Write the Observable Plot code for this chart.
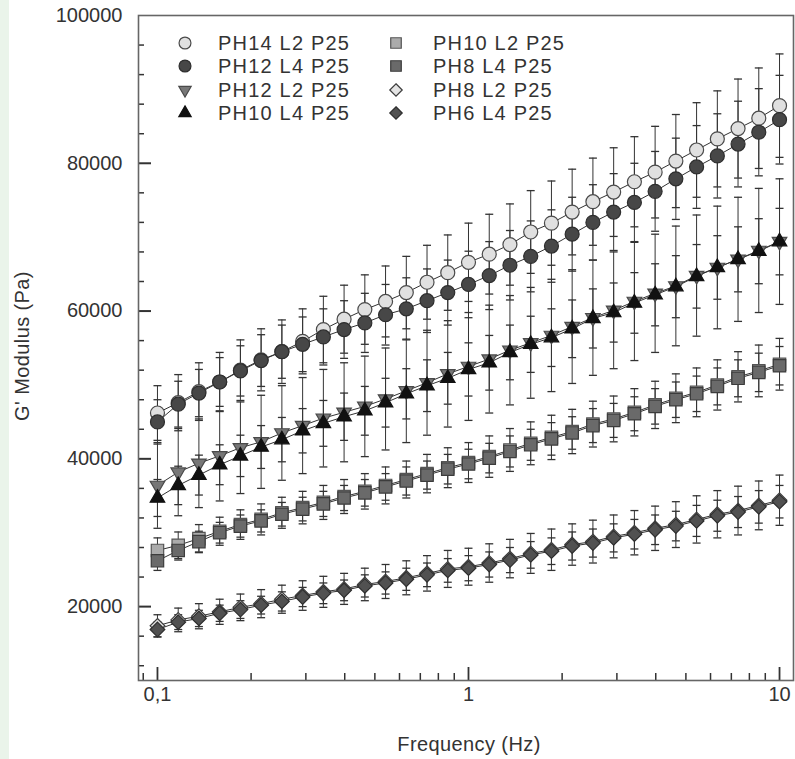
<!DOCTYPE html>
<html><head><meta charset="utf-8">
<script src="https://cdn.jsdelivr.net/npm/d3@7"></script>
<script src="https://cdn.jsdelivr.net/npm/@observablehq/plot@0.6"></script>
<style>
body{margin:0;background:#fff;width:795px;height:759px;overflow:hidden;font-family:"Liberation Sans",Arial,sans-serif;}
#wrap{position:relative;width:795px;height:759px;}
#strip{position:absolute;left:0;top:0;width:9px;height:759px;background:#eaf4ea;}
#chart{position:absolute;left:0;top:0;}
.t{position:absolute;color:#333;font-size:20px;white-space:nowrap;letter-spacing:0.4px;}
.leg{position:absolute;color:#333;font-size:20px;white-space:nowrap;letter-spacing:1.2px;line-height:20px;}
.sym{position:absolute;}
</style></head><body>
<div id="wrap"><div id="strip"></div><div id="chart"></div></div>
<script>
// Frequency (Hz)
const freq = [0.1, 0.1166, 0.1359, 0.1585, 0.1848, 0.2154, 0.2512, 0.2929, 0.3415, 0.3981, 0.4642, 0.5412, 0.631, 0.7356, 0.8577, 1, 1.166, 1.359, 1.585, 1.848, 2.154, 2.512, 2.929, 3.415, 3.981, 4.642, 5.412, 6.31, 7.356, 8.577, 10];

// G' modulus (Pa) per series
const ph14L2 = [46200,47600,49100,50400,52000,53400,54500,55900,57500,58900,60200,61300,62500,63900,65200,66600,67700,69000,70700,71900,73400,74800,76100,77500,78800,80300,81800,83300,84700,86100,87800];
const ph12L4 = [45000,47400,48900,50400,51900,53300,54500,55500,56500,57500,58400,59500,60300,61400,62500,63600,64800,66200,67400,68800,70400,72000,73400,74700,76200,77900,79500,81000,82600,84200,85900];
const ph12L2 = [36400,38200,39400,40400,41500,42300,43500,44500,45500,46300,47100,48100,49200,50300,51500,52500,53500,54700,55700,56700,57900,59100,60100,61300,62400,63400,64800,65900,67000,68200,69400];
const ph10L4 = [34700,36400,37800,39200,40400,41600,42600,43800,44800,45700,46500,47600,48800,49900,50900,52100,53000,54400,55500,56400,57600,59000,59800,61100,62200,63300,64700,65900,67000,68100,69400];
const ph10L2 = [27600,28300,29200,30200,31100,31800,32700,33400,34100,34900,35600,36400,37200,38000,38800,39500,40300,41200,42100,42900,43700,44700,45400,46300,47300,48200,49000,50000,51100,51900,52800];
const ph8L4  = [26200,27600,28800,30000,30900,31600,32500,33200,33900,34700,35400,36200,37000,37800,38600,39300,40100,41000,41900,42700,43500,44500,45200,46100,47100,48000,48800,49800,50900,51700,52600];
const ph8L2  = [17400,18200,18700,19300,19900,20400,21000,21500,22000,22400,23000,23400,23900,24500,25100,25400,25900,26500,27200,27700,28400,28800,29500,30000,30600,31100,31800,32500,33000,33700,34400];
const ph6L4  = [16900,17900,18400,19100,19600,20200,20700,21300,21800,22200,22800,23200,23700,24300,24900,25200,25700,26300,27000,27500,28200,28600,29300,29800,30400,30900,31600,32300,32800,33500,34200];

// error bar half-widths (Pa)
const ph14L2Err = [3700,3800,3900,4000,4100,4200,4300,4400,4500,4600,4700,4800,4900,5000,5100,5300,5400,5500,5600,5700,5800,5900,6000,6100,6200,6300,6400,6500,6700,6800,7000];
const ph12L4Err = [3000,3100,3200,3300,3400,3500,3600,3700,3800,3900,4000,4100,4200,4300,4400,4500,4600,4700,4800,4900,5000,5100,5200,5300,5400,5500,5600,5700,5800,5900,6000];
const ph12L2Err = [5800,5900,6000,6100,6200,6300,6400,6500,6600,6700,6800,6900,7000,7100,7200,7300,7300,7400,7500,7600,7700,7800,7900,8000,8000,8100,8200,8300,8400,8400,8500];
const ph10L4Err = [2500,2600,2700,2700,2800,2900,3000,3000,3100,3200,3300,3300,3400,3500,3500,3600,3700,3700,3800,3900,3900,4000,4000,4100,4200,4200,4300,4300,4400,4400,4500];
const ph10L2Err = [1700,1800,1900,1900,2000,2100,2100,2200,2300,2300,2400,2500,2500,2600,2700,2700,2800,2900,2900,3000,3000,3100,3100,3200,3200,3300,3300,3400,3400,3500,3500];
const ph8L4Err  = [1300,1300,1400,1400,1500,1500,1600,1600,1700,1700,1800,1800,1900,1900,2000,2000,2000,2100,2100,2200,2200,2300,2300,2300,2400,2400,2400,2500,2500,2600,2600];
const ph8L2Err  = [1500,1600,1700,1700,1800,1900,1900,2000,2100,2100,2200,2300,2300,2400,2500,2500,2600,2600,2700,2800,2800,2900,2900,3000,3000,3100,3200,3200,3300,3300,3400];
const ph6L4Err  = [1000,1000,1100,1100,1200,1200,1300,1300,1400,1400,1500,1500,1500,1600,1600,1700,1700,1700,1800,1800,1900,1900,1900,2000,2000,2000,2100,2100,2100,2200,2200];

const seriesNames = ["PH14 L2 P25","PH12 L4 P25","PH12 L2 P25","PH10 L4 P25","PH10 L2 P25","PH8 L4 P25","PH8 L2 P25","PH6 L4 P25"];
const seriesValues = [ph14L2, ph12L4, ph12L2, ph10L4, ph10L2, ph8L4, ph8L2, ph6L4];
const seriesErrors = [ph14L2Err, ph12L4Err, ph12L2Err, ph10L4Err, ph10L2Err, ph8L4Err, ph8L2Err, ph6L4Err];

// ticks
const xTickLabels = [0.1, 1, 10];
const xTickText = ["0,1", "1", "10"];
const xMinor = [0.09,0.2,0.3,0.4,0.5,0.6,0.7,0.8,0.9,2,3,4,5,6,7,8,9];
const yTickLabels = [20000, 40000, 60000, 80000, 100000];
const yMajor = [20000, 40000, 60000, 80000];
const yMinor = [12000,16000,24000,28000,32000,36000,44000,48000,52000,56000,64000,68000,72000,76000,84000,88000,92000,96000];

const xDomain = [0.0869, 11.09];
const yDomain = [10000, 100000];

const W = 795, H = 759, mL = 138, mR = 2, mT = 15, mB = 79;

const downTri = {draw(ctx, size){const s=Math.sqrt(size*4/Math.sqrt(3)), h=s*Math.sqrt(3)/2; ctx.moveTo(-s/2,-h/3); ctx.lineTo(s/2,-h/3); ctx.lineTo(0,2*h/3); ctx.closePath();}};
const cap = {draw(ctx){ctx.moveTo(-4,0); ctx.lineTo(4,0);}};

const styles = [
  {symbol:"circle",   r:7,   fill:"#e0e0e0", stroke:"#4a4a4a"},
  {symbol:"circle",   r:7,   fill:"#474747", stroke:"#2e2e2e"},
  {symbol:downTri,    r:5.4, fill:"#777",    stroke:"#4a4a4a"},
  {symbol:"triangle", r:5.4, fill:"#111",    stroke:"#111"},
  {symbol:"square",   r:7,   fill:"#ababab", stroke:"#555"},
  {symbol:"square",   r:7,   fill:"#6a6a6a", stroke:"#3c3c3c"},
  {symbol:"diamond2", r:6.6, fill:"#e4e4e4", stroke:"#3c3c3c"},
  {symbol:"diamond2", r:6.6, fill:"#515151", stroke:"#2e2e2e"}
];

const rows = [];
seriesNames.forEach((s, k) => freq.forEach((f, i) => rows.push({s, k, f, v: seriesValues[k][i], e: seriesErrors[k][i]})));

const marks = [
  Plot.ruleX(rows, {x:"f", y1:d=>d.v-d.e, y2:d=>d.v+d.e, stroke:"#333", strokeWidth:1}),
  Plot.dot(rows, {x:"f", y:d=>d.v+d.e, symbol:cap, r:1, stroke:"#333", strokeWidth:1.3}),
  Plot.dot(rows, {x:"f", y:d=>d.v-d.e, symbol:cap, r:1, stroke:"#333", strokeWidth:1.3}),
  Plot.line(rows, {x:"f", y:"v", z:"s", stroke:"#333", strokeWidth:1})
];
seriesNames.forEach((s, k) => {
  const st = styles[k];
  marks.push(Plot.dot(rows.filter(d => d.k === k), {x:"f", y:"v", symbol:st.symbol, r:st.r, fill:st.fill, stroke:st.stroke, strokeWidth:1.2}));
});
marks.push(
  // inward ticks (negative tick size points into the frame)
  Plot.axisX({ticks:xMinor, tickSize:-7, text:null, stroke:"#333", strokeWidth:1.5, label:null}),
  Plot.axisX({ticks:xTickLabels, tickSize:-13, text:null, stroke:"#333", strokeWidth:1.8, label:null}),
  Plot.axisY({ticks:yMinor, tickSize:-6, text:null, stroke:"#333", strokeWidth:1.5, label:null}),
  Plot.axisY({ticks:yMajor, tickSize:-13, text:null, stroke:"#333", strokeWidth:2, label:null}),
  Plot.axisX({ticks:xTickLabels, tickFormat:d=>xTickText[xTickLabels.indexOf(d)], tickSize:0, tickPadding:6, fontSize:20, fill:"#333", label:null}),
  Plot.axisY({ticks:yTickLabels, tickFormat:d=>String(d), tickSize:0, tickPadding:16, fontSize:20, fill:"#333", label:null}),
  Plot.frame({stroke:"#666", strokeWidth:1.6})
);

const chart = Plot.plot({
  width:W, height:H,
  marginLeft:mL, marginRight:mR, marginTop:mT, marginBottom:mB,
  style:{background:"transparent", fontFamily:"'Liberation Sans', Arial, sans-serif"},
  x:{type:"log", domain:xDomain},
  y:{domain:yDomain},
  marks
});
document.getElementById("chart").appendChild(chart);

const wrap = document.getElementById("wrap");
function addText(cls, txt, css){const d=document.createElement("div"); d.className=cls; d.textContent=txt; Object.assign(d.style, css); wrap.appendChild(d); return d;}
addText("t", "Frequency (Hz)", {left:"469px", top:"733px", transform:"translateX(-50%)"});
addText("t", "G' Modulus (Pa)", {left:"22px", top:"346px", transform:"translate(-50%,-50%) rotate(-90deg)"});

// legend
const legCols = [{sx:185, tx:218}, {sx:396, tx:433}];
const legRows = [43, 66, 90, 113];
const symMap = {circle:d3.symbolCircle, triangle:d3.symbolTriangle, square:d3.symbolSquare, diamond2:d3.symbolDiamond2};
seriesNames.forEach((s, k) => {
  const col = legCols[Math.floor(k/4)], y = legRows[k%4], st = styles[k];
  const svg = d3.create("svg").attr("class","sym").attr("width",20).attr("height",20)
    .style("left",(col.sx-10)+"px").style("top",(y-10)+"px");
  const type = typeof st.symbol === "string" ? symMap[st.symbol] : st.symbol;
  const rr = st.r*0.85;
  svg.append("path").attr("transform","translate(10,10)").attr("d", d3.symbol(type, Math.PI*rr*rr)())
    .attr("fill", st.fill).attr("stroke", st.stroke).attr("stroke-width", 1.2);
  wrap.appendChild(svg.node());
  addText("leg", s, {left:col.tx+"px", top:(y-10)+"px"});
});
</script>
</body></html>
